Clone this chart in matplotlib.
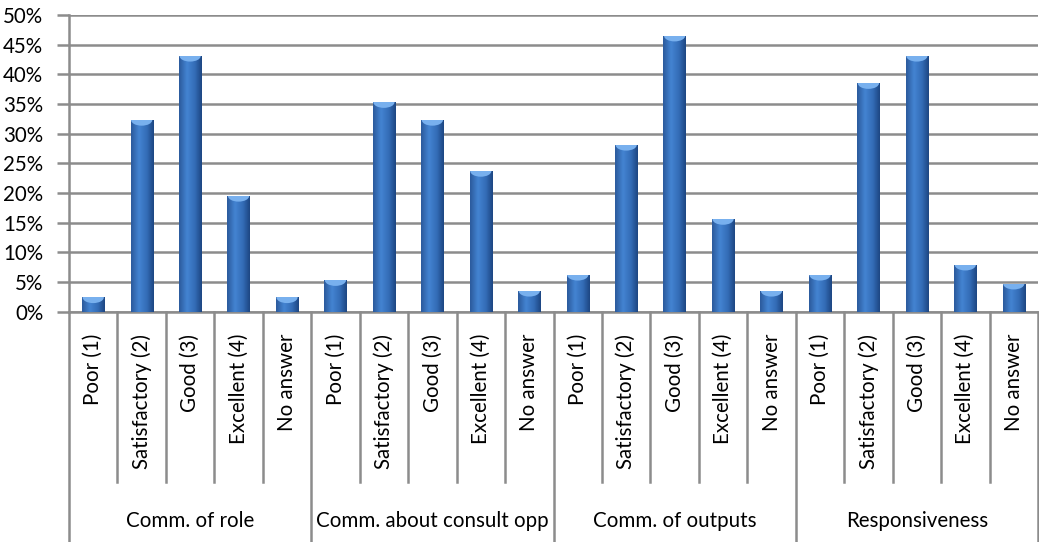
import numpy as np
import matplotlib
matplotlib.use("Agg")
import matplotlib.pyplot as plt
from matplotlib.colors import LinearSegmentedColormap
from matplotlib.patches import Ellipse
from matplotlib.lines import Line2D

plt.rcParams['font.family'] = ['Lato', 'DejaVu Sans']

groups = ["Comm. of role", "Comm. about consult opp", "Comm. of outputs", "Responsiveness"]
ratings = ["Poor (1)", "Satisfactory (2)", "Good (3)", "Excellent (4)", "No answer"]

comm_role = [2.4, 32.3, 43.1, 19.5, 2.4]
comm_consult = [5.3, 35.3, 32.3, 23.7, 3.5]
comm_outputs = [6.2, 28.1, 46.5, 15.6, 3.5]
responsiveness = [6.2, 38.5, 43.1, 7.9, 4.7]

series = [comm_role, comm_consult, comm_outputs, responsiveness]
values = [v for s in series for v in s]
labels = [r for _ in groups for r in ratings]
n = len(values)
x = np.arange(n)

W, H = 1039, 542
fig = plt.figure(figsize=(W / 100, H / 100), dpi=100)
ax = fig.add_axes([69 / W, 1 - 311.7 / H, (1038 - 69) / W, (311.7 - 15) / H])

ax.set_xlim(-0.5, n - 0.5)
ax.set_ylim(0, 50)

fs = 14.8
grid_col = "#8c8c8c"
ax.set_yticks(np.arange(0, 51, 5))
ax.set_yticklabels([f"{t}%" for t in range(0, 51, 5)], fontsize=fs)
ax.yaxis.grid(True, color=grid_col, linewidth=1.8)
ax.set_axisbelow(True)
ax.tick_params(axis='y', length=9, width=1.8, color=grid_col, pad=9.5)
ax.set_xticks([])
for side in ("top", "right"):
    ax.spines[side].set_visible(False)
for side in ("left", "bottom"):
    ax.spines[side].set_color(grid_col)
    ax.spines[side].set_linewidth(1.8)

# cylinder-like shading across each bar
shade = LinearSegmentedColormap.from_list(
    "shade", [(0.0, "#2b5a9c"), (0.35, "#4484d2"), (0.7, "#336cb6"), (1.0, "#1d4682")])
grad = np.linspace(0, 1, 64).reshape(1, -1)

bw = 0.46
bars = ax.bar(x, values, width=bw, color="none", edgecolor="none", zorder=2)
for rect, v in zip(bars, values):
    x0 = rect.get_x()
    im = ax.imshow(grad, cmap=shade, aspect="auto", extent=(x0, x0 + bw, 0, v),
                   zorder=3, interpolation="bicubic")
    im.set_clip_path(rect)
    cap = Ellipse((x0 + bw / 2, v), bw * 0.95, 1.9, facecolor="#78b0ee",
                  edgecolor="none", zorder=4)
    ax.add_patch(cap)
    cap.set_clip_path(rect)
ax.set_xlim(-0.5, n - 0.5)
ax.set_ylim(0, 50)

# multi-level category axis below the plot
trans = ax.get_xaxis_transform()

def ypix(p):
    return (311.7 - p) / (311.7 - 15)

for b in range(n + 1):
    xb = b - 0.5
    y_end = ypix(545) if b % 5 == 0 else ypix(482)
    ax.add_line(Line2D([xb, xb], [0, y_end], transform=trans, color=grid_col,
                       linewidth=1.8, clip_on=False))

for i, lab in enumerate(labels):
    ax.text(i, ypix(334), lab, transform=trans, rotation=90, ha="center", va="top",
            fontsize=fs, color="black")

for g, name in enumerate(groups):
    ax.text(g * 5 + 2, ypix(521), name, transform=trans, ha="center", va="center",
            fontsize=fs, color="black")

fig.savefig("out.png", dpi=100)
